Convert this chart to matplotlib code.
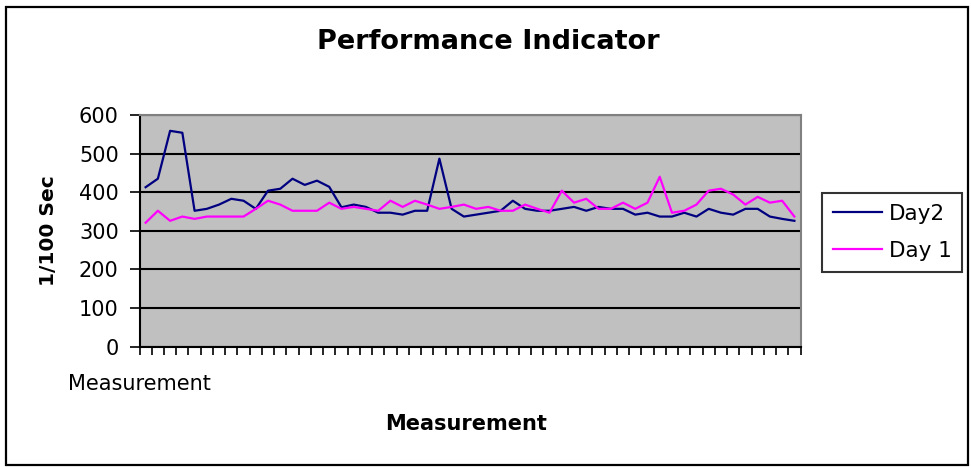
import numpy as np
import matplotlib
matplotlib.use("Agg")
import matplotlib.pyplot as plt
from matplotlib.patches import Rectangle

day2 = [413, 435, 559, 554, 352, 357, 368, 383, 378, 357,
        404, 409, 435, 419, 430, 414, 361, 368, 362, 347,
        347, 342, 352, 352, 487, 357, 337, 342, 347, 352,
        378, 357, 352, 352, 357, 362, 352, 362, 357, 357,
        342, 347, 337, 337, 347, 337, 357, 347, 342, 357,
        357, 337, 331, 326]
day1 = [321, 352, 326, 337, 331, 337, 337, 337, 337, 357,
        378, 368, 352, 352, 352, 373, 357, 362, 357, 352,
        378, 362, 378, 368, 357, 362, 368, 357, 362, 352,
        352, 368, 357, 347, 404, 373, 383, 357, 357, 373,
        357, 373, 440, 347, 352, 368, 404, 409, 394, 368,
        388, 373, 378, 337]
series_names = ["Day2", "Day 1"]
y_ticks = [0, 100, 200, 300, 400, 500, 600]

W, H = 971, 467
fig = plt.figure(figsize=(W / 100, H / 100), dpi=100)

# outer chart border
fig.patches.append(Rectangle((6 / W, 1 - 465 / H), 962 / W, 458 / H,
                             transform=fig.transFigure, fill=False,
                             edgecolor="black", linewidth=1.6))

left, right, top, bottom = 139.5, 800.5, 115, 346.7
ax = fig.add_axes([left / W, 1 - bottom / H, (right - left) / W, (bottom - top) / H])
ax.set_facecolor("#C0C0C0")

x = np.arange(len(day2))
ax.plot(x, day2, color="#000080", linewidth=1.6, label=series_names[0])
ax.plot(x, day1, color="#FF00FF", linewidth=1.6, label=series_names[1])

ax.set_xlim(-0.5, len(day2) - 0.5)
ax.set_ylim(0, 600)
ax.set_yticks(y_ticks)
ax.set_xticks(np.arange(len(day2) + 1) - 0.5)
ax.set_xticklabels([])
ax.yaxis.grid(True, color="black", linewidth=1.5)

for s in ["left", "bottom"]:
    ax.spines[s].set_color("black")
    ax.spines[s].set_linewidth(1.5)
for s in ["top", "right"]:
    ax.spines[s].set_color("#808080")
    ax.spines[s].set_linewidth(1.5)

ax.tick_params(axis="y", direction="out", length=7, width=1.2, pad=8, labelsize=15)
ax.tick_params(axis="x", direction="out", length=5.5, width=1.2)

fig.text(488 / W, 1 - 42 / H, "Performance Indicator", ha="center", va="center",
         fontsize=19.5, fontweight="bold")
fig.text(48 / W, 1 - 231 / H, "1/100 Sec", ha="center", va="center",
         rotation=90, fontsize=14.5, fontweight="bold")
fig.text(68 / W, 1 - 384 / H, "Measurement", ha="left", va="center", fontsize=15)
fig.text(466 / W, 1 - 424 / H, "Measurement", ha="center", va="center",
         fontsize=15, fontweight="bold")

leg = fig.legend(loc="upper left", bbox_to_anchor=(822 / W, 1 - 193 / H),
                 borderaxespad=0, fontsize=15.5, frameon=True, fancybox=False,
                 handlelength=2.3, handletextpad=0.3, labelspacing=0.8,
                 borderpad=0.5)
leg.get_frame().set_edgecolor("black")
leg.get_frame().set_linewidth(1.5)

fig.savefig("out.png", dpi=100)
